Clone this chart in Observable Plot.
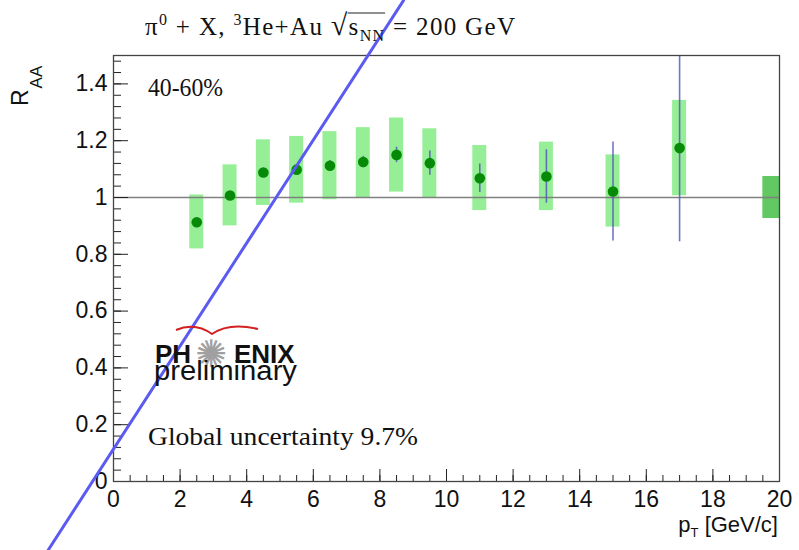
<!DOCTYPE html>
<html>
<head>
<meta charset="utf-8">
<script src="https://cdn.jsdelivr.net/npm/d3@7"></script>
<script src="https://cdn.jsdelivr.net/npm/@observablehq/plot@0.6"></script>
<style>
  html, body { margin: 0; padding: 0; background: white; }
  svg { display: block; overflow: visible; }
</style>
</head>
<body>
<div id="chart"></div>
<script>
// ---- data ----
const pT       = [2.5, 3.5, 4.5, 5.5, 6.5, 7.5, 8.5, 9.5, 11, 13, 15, 17];
const raa      = [0.913, 1.007, 1.088, 1.098, 1.112, 1.125, 1.150, 1.121, 1.068, 1.074, 1.021, 1.174];
const statErr  = [0.012, 0.012, 0.014, 0.016, 0.018, 0.020, 0.027, 0.043, 0.050, 0.094, 0.174, 0.330];
const systLow  = [0.819, 0.900, 0.972, 0.980, 0.992, 0.998, 1.019, 0.998, 0.954, 0.954, 0.896, 1.006];
const systHigh = [1.009, 1.115, 1.203, 1.215, 1.232, 1.246, 1.280, 1.242, 1.183, 1.195, 1.150, 1.342];
const globalBox = [{x1: 19.5, x2: 20, y1: 0.926, y2: 1.074}];
const refLine = [1];
const yMajor = [0, 0.2, 0.4, 0.6, 0.8, 1, 1.2, 1.4];
const yMinor = d3.range(0, 38).map(i => +(i * 0.04).toFixed(2)).filter(v => v <= 1.5);
const xMajor = [0, 2, 4, 6, 8, 10, 12, 14, 16, 18, 20];
const xMinor = d3.range(0, 41).map(i => i * 0.5);
const overlayLine = [{x: -1.97, y: -0.243}, {x: 8.71, y: 1.694}];

const points = pT.map((x, i) => ({x, y: raa[i], s: statErr[i], lo: systLow[i], hi: systHigh[i]}));

const W = 799, H = 550;
const mL = 113, mR = 20, mT = 55, mB = 69;
const fw = W - mL - mR, fh = H - mT - mB;

const chart = Plot.plot({
  width: W, height: H,
  marginLeft: mL, marginRight: mR, marginTop: mT, marginBottom: mB,
  style: {background: "white", fontFamily: "Liberation Sans, Arial, sans-serif", color: "#111"},
  x: {domain: [0, 20], label: null},
  y: {domain: [0, 1.5], label: null},
  marks: [
    Plot.rect(points, {x1: d => d.x - 0.21, x2: d => d.x + 0.21, y1: "lo", y2: "hi", fill: "#96ef96"}),
    Plot.rect(globalBox, {x1: "x1", x2: "x2", y1: "y1", y2: "y2", fill: "#62c862"}),
    Plot.ruleY(refLine, {stroke: "#808080", strokeWidth: 1.6}),
    Plot.ruleX(points, {x: "x", y1: d => d.y - d.s, y2: d => d.y + d.s, stroke: "#5050bd", strokeOpacity: 0.8, strokeWidth: 1.6, clip: true}),
    Plot.dot(points, {x: "x", y: "y", r: 5.3, fill: "#078a07", stroke: "none"}),
    Plot.tickY(yMinor, {y: d => d, insetRight: fw - 8, stroke: "#222", strokeWidth: 1}),
    Plot.tickY(yMajor, {y: d => d, insetRight: fw - 15, stroke: "#222", strokeWidth: 1}),
    Plot.tickX(xMinor, {x: d => d, insetTop: fh - 6, stroke: "#222", strokeWidth: 1}),
    Plot.tickX(xMajor, {x: d => d, insetTop: fh - 12, stroke: "#222", strokeWidth: 1}),
    Plot.frame({stroke: "#444", strokeWidth: 1.3}),
    Plot.axisY(yMajor, {tickSize: 0, tickPadding: 6, fontSize: 23, tickFormat: d => String(d), label: null}),
    Plot.axisX(xMajor, {tickSize: 0, tickPadding: 9, fontSize: 23, tickFormat: d => String(d), label: null}),
    Plot.line(overlayLine, {x: "x", y: "y", stroke: "#5b5bf2", strokeWidth: 3, clip: false})
  ]
});

document.getElementById("chart").appendChild(chart);
const svg = d3.select(chart);
const g = svg.append("g").attr("text-anchor", "start");

const serif = "Liberation Serif, Times New Roman, serif";
const sans = "Liberation Sans, Arial, sans-serif";

// title
const t = g.append("text").attr("x", 145).attr("y", 35)
  .attr("font-family", serif).attr("font-size", 25).attr("fill", "#111")
  .attr("textLength", 370).attr("lengthAdjust", "spacing");
t.append("tspan").text("π");
t.append("tspan").attr("dy", -10).attr("font-size", 16).text("0");
t.append("tspan").attr("dy", 10).text(" + X, ");
t.append("tspan").attr("dy", -10).attr("font-size", 16).text("3");
t.append("tspan").attr("dy", 10).text("He+Au ");
t.append("tspan").attr("font-size", 30).attr("font-weight", "300").text("√");
t.append("tspan").text("s");
t.append("tspan").attr("dy", 6).attr("font-size", 16).text("NN");
t.append("tspan").attr("dy", -6).text(" = 200 GeV");
// radical bar over s_NN
try {
  const node = t.node();
  const full = node.textContent;
  const iS = full.indexOf("√") + 1;
  const x0 = node.getStartPositionOfChar(iS).x;
  const x1 = node.getEndPositionOfChar(iS + 2).x;
  g.append("line").attr("x1", x0 - 1).attr("x2", x1 + 1).attr("y1", 13).attr("y2", 13)
    .attr("stroke", "#222").attr("stroke-width", 1.1);
} catch (e) {}

// y label R_AA
const yl = g.append("text").attr("transform", "translate(28,106) rotate(-90)")
  .attr("font-family", sans).attr("font-size", 23).attr("fill", "#111");
yl.append("tspan").text("R");
yl.append("tspan").attr("dy", 14).attr("dx", 1).attr("font-size", 17).text("AA");

// x label
const xl = g.append("text").attr("x", 778).attr("y", 532).attr("text-anchor", "end")
  .attr("font-family", sans).attr("font-size", 22).attr("fill", "#111");
xl.append("tspan").text("p");
xl.append("tspan").attr("dy", 5).attr("font-size", 13).text("T");
xl.append("tspan").attr("dy", -5).text(" [GeV/c]");

// centrality
g.append("text").attr("x", 148).attr("y", 96).attr("font-family", serif)
  .attr("font-size", 26).attr("fill", "#111")
  .attr("textLength", 75).attr("lengthAdjust", "spacingAndGlyphs").text("40-60%");

// global uncertainty
g.append("text").attr("x", 148).attr("y", 445).attr("font-family", serif)
  .attr("font-size", 26).attr("fill", "#111")
  .attr("textLength", 270).attr("lengthAdjust", "spacingAndGlyphs").text("Global uncertainty 9.7%");

// PHENIX preliminary logo
g.append("path").attr("d", "M176,330 Q195,322 212,334 Q229,322 258,329")
  .attr("fill", "none").attr("stroke", "#d42020").attr("stroke-width", 2);
const logo = g.append("text").attr("x", 155).attr("y", 363).attr("font-family", sans)
  .attr("font-weight", "bold").attr("font-size", 26).attr("fill", "#111");
logo.append("tspan").text("PH");
logo.append("tspan").attr("font-family", "DejaVu Sans").attr("font-weight", "normal")
  .attr("font-size", 38).attr("fill", "#a0a0a0").attr("dx", 4).attr("dy", 4).text("✺");
logo.append("tspan").attr("dy", -4).attr("dx", 7).text("ENIX");
g.append("text").attr("x", 154).attr("y", 380).attr("font-family", sans)
  .attr("font-size", 27).attr("fill", "#111")
  .attr("textLength", 143).attr("lengthAdjust", "spacingAndGlyphs").text("preliminary");
</script>
</body>
</html>
